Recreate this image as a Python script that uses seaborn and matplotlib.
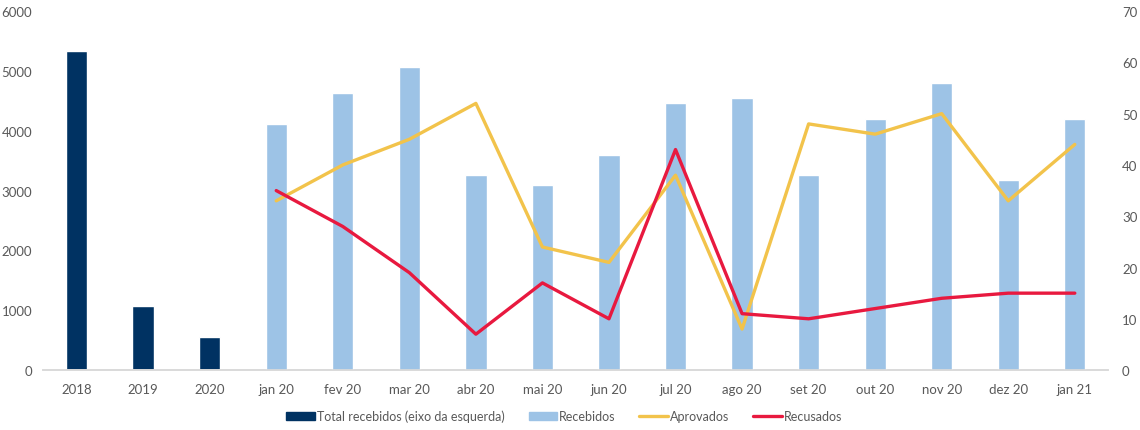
import numpy as np
import pandas as pd
import matplotlib
matplotlib.use("Agg")
import matplotlib.pyplot as plt
import seaborn as sns
from matplotlib.patches import Patch
from matplotlib.lines import Line2D

categories = ["2018", "2019", "2020", "jan 20", "fev 20", "mar 20", "abr 20", "mai 20",
              "jun 20", "jul 20", "ago 20", "set 20", "out 20", "nov 20", "dez 20", "jan 21"]
total_cats = ["2018", "2019", "2020"]
total_vals = [5330, 1070, 560]
month_cats = categories[3:]
recebidos = [48, 54, 59, 38, 36, 42, 52, 53, 38, 49, 56, 37, 49]
aprovados = [33, 40, 45, 52, 24, 21, 38, 8, 48, 46, 50, 33, 44]
recusados = [35, 28, 19, 7, 17, 10, 43, 11, 10, 12, 14, 15, 15]

c_dark = "#003262"
c_light = "#9DC3E6"
c_yellow = "#F2C34B"
c_red = "#E8193F"
c_text = "#595959"

sns.set_theme(style="white")
plt.rcParams["font.family"] = ["Lato", "DejaVu Sans"]

fig = plt.figure(figsize=(11.4, 4.31), dpi=100)
ax = fig.add_axes([0.038, 0.139, 0.934, 0.833])
ax2 = ax.twinx()

df_tot = pd.DataFrame({"cat": total_cats, "val": total_vals})
df_rec = pd.DataFrame({"cat": month_cats, "val": recebidos})

sns.barplot(data=df_tot, x="cat", y="val", order=categories, ax=ax,
            color=c_dark, saturation=1, width=0.32)
sns.barplot(data=df_rec, x="cat", y="val", order=categories, ax=ax2,
            color=c_light, saturation=1, width=0.32)

pos = [categories.index(c) for c in month_cats]
df_lines = pd.DataFrame({"pos": pos, "apr": aprovados, "rec": recusados})
sns.lineplot(data=df_lines, x="pos", y="apr", ax=ax2, color=c_yellow, linewidth=2.4)
sns.lineplot(data=df_lines, x="pos", y="rec", ax=ax2, color=c_red, linewidth=2.4)

ax.set_xlim(-0.5, len(categories) - 0.5)
ax.set_ylim(0, 6000)
ax2.set_ylim(0, 70)
ax.set_yticks(np.arange(0, 6001, 1000))
ax2.set_yticks(np.arange(0, 71, 10))
ax.set_xticks(range(len(categories)))
ax.set_xticklabels(categories)
for a in (ax, ax2):
    a.set_xlabel("")
    a.set_ylabel("")
    for s in ["top", "left", "right"]:
        a.spines[s].set_visible(False)
    a.spines["bottom"].set_color("#D9D9D9")
    a.spines["bottom"].set_linewidth(1.2)
    a.tick_params(axis="both", length=0, labelsize=9.5, colors=c_text)
    a.grid(False)
ax.tick_params(axis="x", pad=9)
ax.tick_params(axis="y", pad=8)
ax2.tick_params(axis="y", pad=10)

handles = [Patch(color=c_dark, label="Total recebidos (eixo da esquerda)"),
           Patch(color=c_light, label="Recebidos"),
           Line2D([0], [0], color=c_yellow, lw=2.4, label="Aprovados"),
           Line2D([0], [0], color=c_red, lw=2.4, label="Recusados")]
leg = fig.legend(handles=handles, loc="center", bbox_to_anchor=(0.495, 0.032), ncol=4,
                 frameon=False, fontsize=9, handlelength=2.3, handleheight=0.55,
                 handletextpad=0.15, columnspacing=1.9)
for t in leg.get_texts():
    t.set_color(c_text)

fig.savefig("out.png", dpi=100)
